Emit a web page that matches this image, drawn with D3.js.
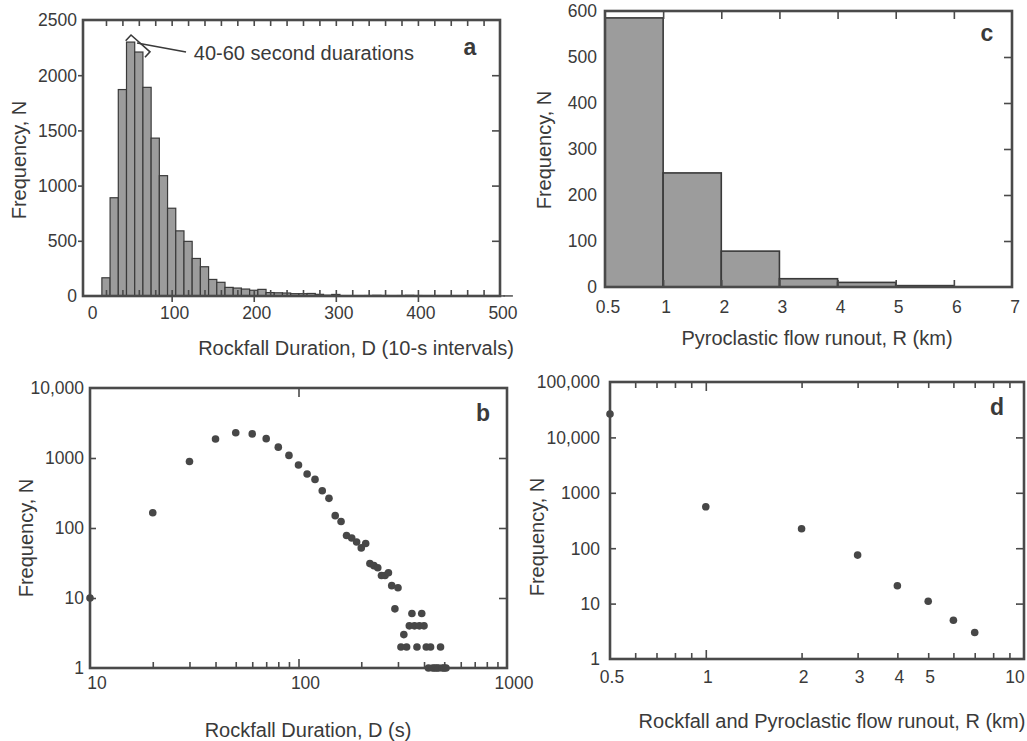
<!DOCTYPE html>
<html><head><meta charset="utf-8">
<script src="https://cdn.jsdelivr.net/npm/d3@7"></script>
<style>
body{margin:0;background:#fff}
text{font-family:"Liberation Sans",Arial,sans-serif;fill:#3a3a3a}
</style></head>
<body><svg id="chart" width="1027" height="741"></svg>
<script>
// ---- Data ----
// Rockfall durations (centre of 10-s bins) and counts (panels a & b)
const durationSeconds = [10,20,30,40,50,60,70,80,90,100,110,120,130,140,150,160,170,180,190,200,
  210,220,230,240,250,260,270,280,290,300,310,320,330,340,350,360,370,380,390,400,
  410,420,430,440,450,460,470,480,490,500,510];
const durationCounts = [10,165,890,1870,2300,2210,1890,1430,1090,795,590,495,340,265,150,124,78,72,63,52,
  60,31,29,27,21,21,23,15,7,14,2,3,2,4,6,4,2,4,6,4,
  2,1,2,1,1,1,1,2,1,1,1];
// Pyroclastic flow runout bins (panel c)
const runoutBinEdges = [0.5,1,2,3,4,5,6,7];
const pyroclasticCounts = [585,248,78,18,10,3];
// Rockfall + pyroclastic flow runout (panel d)
const runoutKm = [0.5,1,2,3,4,5,6,7];
const combinedCounts = [26500,560,225,75,21,11,5,3];
// Tick labels
const ticksA_x = [0,100,200,300,400,500];
const ticksA_y = [0,500,1000,1500,2000,2500];
const ticksB_x = [10,100,1000];
const ticksB_y = [1,10,100,1000,10000];
const ticksC_x = [0.5,1,2,3,4,5,6,7];
const ticksC_y = [0,100,200,300,400,500,600];
const ticksD_x = [0.5,1,2,3,4,5,10];
const ticksD_y = [1,10,100,1000,10000,100000];

// ---- Style ----
const W = 1027;
const INK = "#3a3a3a", FRAME = "#4a4a4a", BAR = "#9c9c9c", DOT = "#474747";
const svg = d3.select("#chart");
const fmtComma = d3.format(",");
const fmtPlain = d => d >= 10000 ? fmtComma(d) : String(d);

function frame(x0,y0,x1,y1){
  svg.append("rect").attr("x",x0).attr("y",y0).attr("width",x1-x0).attr("height",y1-y0)
    .attr("fill","none").attr("stroke",FRAME).attr("stroke-width",2.6);
}
function ticks(axisFn, scale, values, size, tx, ty, w){
  const g = svg.append("g").attr("transform",`translate(${tx},${ty})`)
    .call(axisFn(scale).tickValues(values).tickSize(size).tickFormat(() => ""));
  g.select(".domain").remove();
  g.selectAll("line").attr("stroke",FRAME).attr("stroke-width",w||1.6);
}
function xLabels(scale, values, y, fmt, dx){
  svg.append("g").selectAll("text").data(values).join("text")
    .attr("x",d=>Math.min(scale(d)+(dx||0), W-12)).attr("y",y).attr("text-anchor","middle")
    .attr("font-size",17.5).text(fmt);
}
function yLabels(scale, values, x, fmt){
  svg.append("g").selectAll("text").data(values).join("text")
    .attr("x",x).attr("y",d=>scale(d)).attr("dy","0.36em").attr("text-anchor","end")
    .attr("font-size",17.5).text(fmt);
}
function title(txt, x, y, rot){
  const t = svg.append("text").attr("font-size",20).attr("text-anchor","middle").text(txt);
  if(rot) t.attr("transform",`translate(${x},${y}) rotate(-90)`);
  else t.attr("x",x).attr("y",y);
}
function panelLetter(l,x,y){
  svg.append("text").attr("x",x).attr("y",y).attr("font-size",23).attr("font-weight","bold")
    .attr("text-anchor","middle").text(l);
}

// ================= Panel a =================
{
  const L=83,R=500,T=20,B=296;
  const x = d3.scaleLinear([-8,500],[L,R]);
  const y = d3.scaleLinear([0,2500],[B,T]);
  svg.append("g").selectAll("rect").data(durationSeconds.map((d,i)=>({d,n:durationCounts[i]})).filter(o=>o.d>=15))
    .join("rect")
    .attr("x",o=>x(o.d-5)).attr("width",o=>x(o.d+5)-x(o.d-5))
    .attr("y",o=>y(o.n)).attr("height",o=>y(0)-y(o.n))
    .attr("fill",BAR).attr("stroke",INK).attr("stroke-width",1.2);
  const minor = d3.range(20,500,20);
  ticks(d3.axisTop, x, minor, -6, 0, T);
  ticks(d3.axisBottom, x, minor, -6, 0, B);
  ticks(d3.axisBottom, x, [100,200,300,400], 6, 0, B);
  ticks(d3.axisLeft, y, [500,1000,1500,2000], 5, L, 0);
  ticks(d3.axisRight, y, [500,1000,1500,2000], -8, R, 0);
  frame(L,T,R,B);
  xLabels(x, ticksA_x, 319, String, 3);
  yLabels(y, ticksA_y, 77, String);
  title("Rockfall Duration, D (10-s intervals)", 356, 355);
  title("Frequency, N", 26, 160, true);
  panelLetter("a", 470, 55);
  // annotation bracket over the 40-60 s bars
  const line = d3.line().x(p=>x(p[0])).y(p=>y(p[1]));
  svg.append("path").attr("d", line([[44,2312],[50.5,2364],[73.6,2212],[67.5,2162]]))
    .attr("fill","none").attr("stroke",INK).attr("stroke-width",1.6);
  svg.append("path").attr("d", line([[57.8,2292],[117.5,2210]]))
    .attr("fill","none").attr("stroke",INK).attr("stroke-width",1.6);
  svg.append("text").attr("x",x(127)).attr("y",y(2140)).attr("font-size",20)
    .text("40-60 second duarations");
}

// ================= Panel b =================
{
  const L=90,R=507,T=388,B=668;
  const x = d3.scaleLog([10,1000],[L,R]);
  const y = d3.scaleLog([1,10000],[B,T]);
  const minor = [20,30,40,50,60,70,80,90,200,300,400,500,600,700,800,900];
  ticks(d3.axisBottom, x, minor, -6, 0, B);
  ticks(d3.axisBottom, x, [100], -9, 0, B);
  ticks(d3.axisTop, x, [100], -9, 0, T);
  ticks(d3.axisLeft, y, [10,100,1000], -6, L, 0);
  ticks(d3.axisRight, y, [10,100,1000], -8, R, 0);
  frame(L,T,R,B);
  svg.append("g").selectAll("circle").data(durationSeconds.map((d,i)=>({d,n:durationCounts[i]})))
    .join("circle").attr("cx",o=>x(o.d)).attr("cy",o=>y(o.n)).attr("r",3.8).attr("fill",DOT);
  xLabels(x, ticksB_x, 689, String, 7);
  yLabels(y, ticksB_y, 84, fmtPlain);
  title("Rockfall Duration, D (s)", 308, 737);
  title("Frequency, N", 33, 538, true);
  panelLetter("b", 483, 421);
}

// ================= Panel c =================
{
  const L=605,R=1012,T=11,B=287;
  const x = d3.scaleLinear(runoutBinEdges, runoutBinEdges.map((d,i)=>L+i*(R-L)/(runoutBinEdges.length-1)));
  const y = d3.scaleLinear([0,600],[B,T]);
  svg.append("g").selectAll("rect").data(pyroclasticCounts).join("rect")
    .attr("x",(n,i)=>x(runoutBinEdges[i])).attr("width",(n,i)=>x(runoutBinEdges[i+1])-x(runoutBinEdges[i]))
    .attr("y",n=>y(n)).attr("height",n=>y(0)-y(n))
    .attr("fill",BAR).attr("stroke",INK).attr("stroke-width",1.6);
  ticks(d3.axisTop, x, [1,2,3,4,5,6], -8, 0, T);
  ticks(d3.axisBottom, x, [1,2,3,4,5,6], -7, 0, B);
  ticks(d3.axisRight, y, [100,200,300,400,500], -8, R, 0);
  frame(L,T,R,B);
  xLabels(x, ticksC_x, 313, String, 3);
  yLabels(y, ticksC_y, 597, String);
  title("Pyroclastic flow runout, R (km)", 817, 345);
  title("Frequency, N", 551, 150, true);
  panelLetter("c", 987, 41);
}

// ================= Panel d =================
{
  const L=610,R=1024,T=382,B=659;
  const x = d3.scaleLog([0.5,10],[L,R]);
  const y = d3.scaleLog([1,100000],[B,T]);
  const minor = [0.6,0.7,0.8,0.9,2,3,4,5,6,7,8,9];
  ticks(d3.axisBottom, x, minor, -6, 0, B);
  ticks(d3.axisBottom, x, [1], -9, 0, B);
  ticks(d3.axisTop, x, minor, -6, 0, T);
  ticks(d3.axisTop, x, [1], -9, 0, T);
  ticks(d3.axisLeft, y, [10,100,1000,10000], -6, L, 0);
  ticks(d3.axisRight, y, [10,100,1000,10000], -8, R, 0);
  frame(L,T,R,B);
  svg.append("g").selectAll("circle").data(runoutKm.map((d,i)=>({d,n:combinedCounts[i]})))
    .join("circle").attr("cx",o=>x(o.d)).attr("cy",o=>y(o.n)).attr("r",3.8).attr("fill",DOT);
  xLabels(x, ticksD_x, 683, String, 2);
  yLabels(y, ticksD_y, 600, fmtPlain);
  title("Rockfall and Pyroclastic flow runout, R (km)", 832, 728);
  title("Frequency, N", 544, 537, true);
  panelLetter("d", 997, 415);
}
</script></body></html>
